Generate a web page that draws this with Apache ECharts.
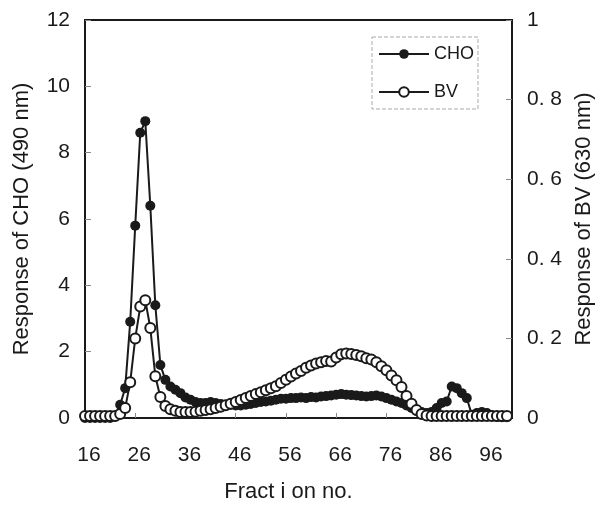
<!DOCTYPE html>
<html>
<head>
<meta charset="utf-8">
<script src="https://cdn.jsdelivr.net/npm/echarts@6/dist/echarts.min.js"></script>
<style>html,body{margin:0;padding:0;background:#fff}#c{width:599px;height:506px}</style>
</head>
<body>
<div id="c"></div>
<script>
const fractions = [];
for (let f = 16; f <= 100; f++) fractions.push(f);

// CHO response (490 nm), fractions 16..100
const cho = [
  0, 0, 0, 0, 0, 0, 0.05,            // 16-22
  0.4, 0.9, 2.9, 5.8, 8.6, 8.95, 6.4, 3.4, 1.6,   // 23-31
  1.15, 0.95, 0.85, 0.75, 0.62, 0.55, 0.48, 0.45, 0.45, // 32-40
  0.48, 0.45, 0.42, 0.4, 0.4, 0.38, 0.38, 0.4, 0.42, 0.45, // 41-50
  0.48, 0.5, 0.52, 0.55, 0.58, 0.58, 0.6, 0.6, 0.62, 0.6, // 51-60
  0.63, 0.62, 0.65, 0.66, 0.68, 0.7, 0.72, 0.7, 0.69, 0.68, // 61-70
  0.66, 0.65, 0.66, 0.68, 0.65, 0.6, 0.55, 0.5, 0.45, 0.38, // 71-80
  0.3, 0.22, 0.18, 0.15, 0.18, 0.3, 0.45, 0.5, 0.95, 0.9,   // 81-90
  0.75, 0.6, 0.1, 0.15, 0.18, 0.15, 0.08, 0.03, 0.02, 0.02  // 91-100
];

// BV response (630 nm), fractions 16..100
const bv = [
  0.005, 0.005, 0.005, 0.005, 0.005, 0.005, 0.005,   // 16-22
  0.01, 0.025, 0.09, 0.2, 0.28, 0.296, 0.226, 0.105, 0.053, // 23-31
  0.03, 0.022, 0.018, 0.015, 0.015, 0.015, 0.016, 0.018, 0.02, // 32-40
  0.022, 0.025, 0.028, 0.032, 0.036, 0.04, 0.045, 0.05, 0.055, 0.06, // 41-50
  0.065, 0.07, 0.075, 0.08, 0.088, 0.096, 0.104, 0.112, 0.118, 0.126, // 51-60
  0.132, 0.137, 0.14, 0.143, 0.142, 0.152, 0.16, 0.162, 0.161, 0.158, // 61-70
  0.155, 0.15, 0.147, 0.14, 0.13, 0.12, 0.107, 0.095, 0.078, 0.055,   // 71-80
  0.036, 0.02, 0.01, 0.006, 0.005, 0.005, 0.005, 0.005, 0.005, 0.005, // 81-90
  0.005, 0.005, 0.005, 0.005, 0.005, 0.005, 0.005, 0.005, 0.005, 0.005 // 91-100
];

const xTicks = [16, 26, 36, 46, 56, 66, 76, 86, 96];
const leftTicks = [0, 2, 4, 6, 8, 10, 12];
const rightTicks = [0, 0.2, 0.4, 0.6, 0.8, 1];

const ink = '#1a1a1a';
const font = 'Liberation Sans, Arial, sans-serif';

const chart = echarts.init(document.getElementById('c'));
chart.setOption({
  animation: false,
  backgroundColor: '#fff',
  grid: { left: 85, right: 87, top: 20, bottom: 88, outerBoundsMode: 'none', containLabel: false, show: true, borderColor: ink, borderWidth: 2, backgroundColor: 'transparent' },
  legend: {
    orient: 'vertical', left: 372, top: 37,
    padding: [8, 4, 8, 6], itemGap: 20, itemWidth: 50, itemHeight: 12,
    borderColor: '#aaa', borderWidth: 1, borderType: 'dashed',
    textStyle: { fontFamily: font, fontSize: 18, color: ink },
    data: ['CHO', 'BV']
  },
  xAxis: {
    type: 'value', min: 16, max: 101,
    name: 'Fract i on no.', nameLocation: 'middle', nameGap: 63,
    nameTextStyle: { fontFamily: font, fontSize: 22, color: ink, padding: [0, 20, 0, 0] },
    axisLine: { lineStyle: { color: ink, width: 2 } },
    axisTick: { inside: true, length: 5, lineStyle: { color: '#888', width: 1 }, customValues: xTicks },
    axisLabel: { fontFamily: font, fontSize: 21, color: ink, margin: 27, padding: [0, 0, 0, 8], customValues: xTicks },
    splitLine: { show: false }
  },
  yAxis: [
    {
      type: 'value', min: 0, max: 12, interval: 2,
      name: 'Response of CHO (490 nm)', nameLocation: 'middle', nameGap: 52,
      nameTextStyle: { fontFamily: font, fontSize: 22, color: ink },
      axisLine: { show: true, lineStyle: { color: ink, width: 2 } },
      axisTick: { inside: true, length: 6, lineStyle: { color: '#888', width: 1 } },
      axisLabel: { fontFamily: font, fontSize: 21, color: ink, margin: 15 },
      splitLine: { show: false }
    },
    {
      type: 'value', min: 0, max: 1, interval: 0.2,
      name: 'Response of BV (630 nm)', nameLocation: 'middle', nameGap: 56, nameRotate: 90,
      nameTextStyle: { fontFamily: font, fontSize: 22, color: ink },
      axisLine: { show: true, lineStyle: { color: ink, width: 2 } },
      axisTick: { inside: true, length: 6, lineStyle: { color: '#888', width: 1 } },
      axisLabel: {
        fontFamily: font, fontSize: 21, color: ink, margin: 15,
        formatter: v => (v === 0 || v === 1) ? String(v) : v.toFixed(1).replace('.', '. ')
      },
      splitLine: { show: false }
    }
  ],
  series: [
    {
      name: 'CHO', type: 'line', yAxisIndex: 0,
      data: fractions.map((f, i) => [f, cho[i]]),
      symbol: 'circle', symbolSize: 10, showAllSymbol: true,
      lineStyle: { color: ink, width: 2 },
      itemStyle: { color: ink },
      z: 2
    },
    {
      name: 'BV', type: 'line', yAxisIndex: 1,
      data: fractions.map((f, i) => [f, bv[i]]),
      symbol: 'circle', symbolSize: 10, showAllSymbol: true,
      lineStyle: { color: ink, width: 2 },
      itemStyle: { color: '#fff', borderColor: ink, borderWidth: 2 },
      z: 3
    }
  ]
});
</script>
</body>
</html>
